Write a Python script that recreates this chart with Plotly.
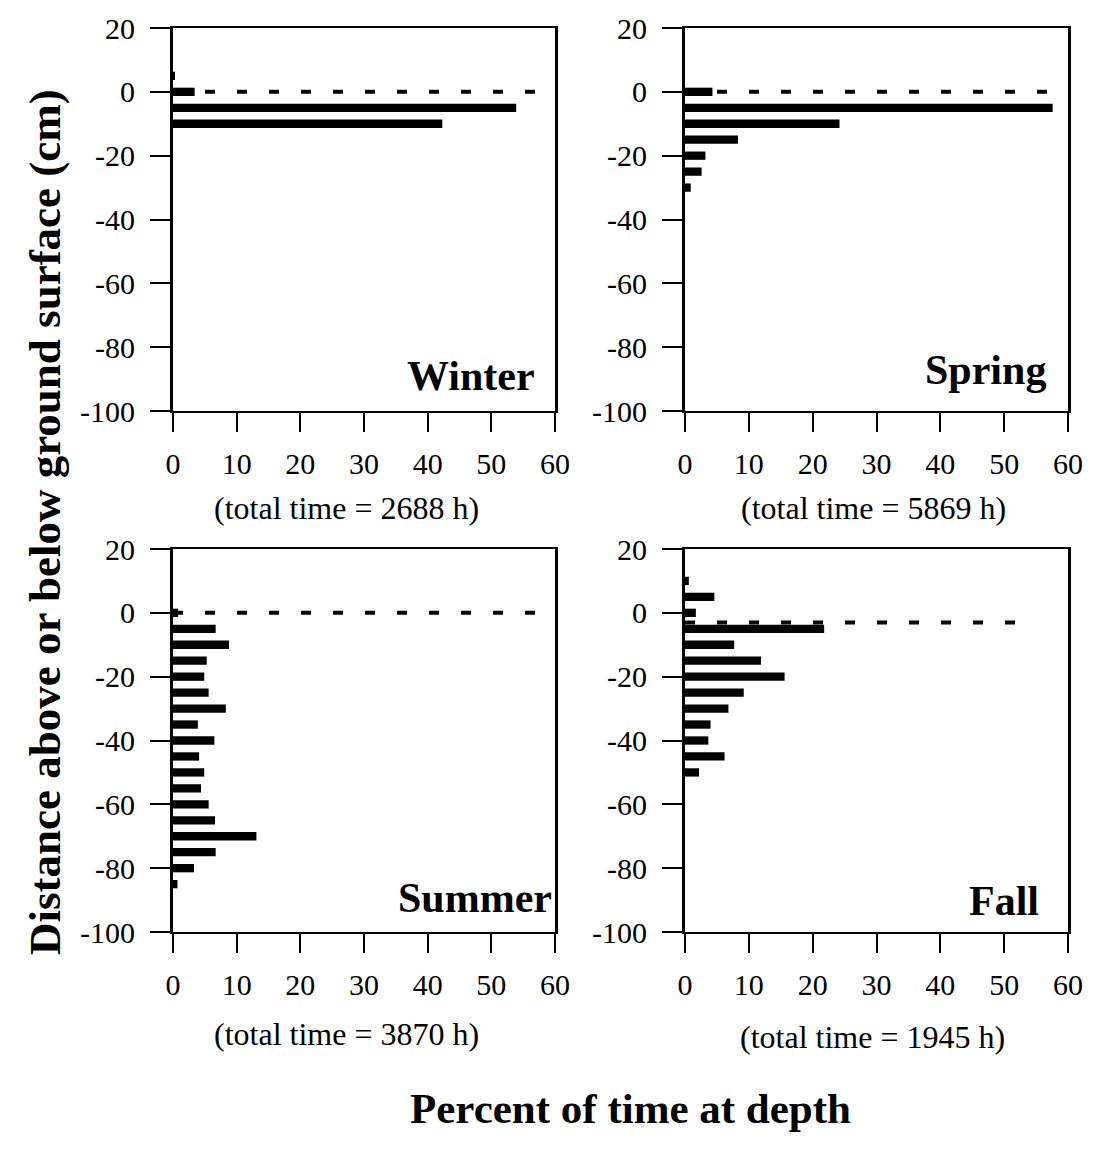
import plotly.graph_objects as go

# Depth classes (cm, + above ground / - below ground) and percent of time per season
winter_depth = [5, 0, -5, -10]
winter_pct = [0.3, 3.4, 53.9, 42.3]

spring_depth = [0, -5, -10, -15, -20, -25, -30]
spring_pct = [4.3, 57.6, 24.2, 8.3, 3.2, 2.6, 0.9]

summer_depth = [0, -5, -10, -15, -20, -25, -30, -35, -40, -45, -50, -55, -60,
                -65, -70, -75, -80, -85]
summer_pct = [0.8, 6.7, 8.8, 5.3, 4.9, 5.6, 8.3, 3.9, 6.5, 4.1, 4.9, 4.4, 5.6,
              6.6, 13.1, 6.7, 3.3, 0.7]

fall_depth = [10, 5, 0, -5, -10, -15, -20, -25, -30, -35, -40, -45, -50]
fall_pct = [0.6, 4.6, 1.7, 21.8, 7.7, 11.9, 15.6, 9.2, 6.8, 4.0, 3.65, 6.2, 2.2]

seasons = ["Winter", "Spring", "Summer", "Fall"]
total_hours = [2688, 5869, 3870, 1945]
# level of the ground surface reference line in each season (cm)
surface_level = [0, 0, 0, -3]
surface_extent = [57, 57, 57, 55]

x_ticks = [0, 10, 20, 30, 40, 50, 60]
y_ticks = [20, 0, -20, -40, -60, -80, -100]
y_tick_text = ["20", "0", "-20", "-40", "-60", "-80", "-100"]

depths = [winter_depth, spring_depth, summer_depth, fall_depth]
pcts = [winter_pct, spring_pct, summer_pct, fall_pct]

W, H = 1094, 1151
FONT = "Liberation Serif, Times New Roman, serif"

# panel boxes in page pixels: (left, right, top, bottom)
boxes = [(173, 555, 28, 411), (685, 1068, 28, 411),
         (173, 555, 549, 932), (685, 1068, 549, 932)]

fig = go.Figure()
layout = dict(
    template="none",
    width=W, height=H,
    margin=dict(l=0, r=0, t=0, b=0, pad=0),
    paper_bgcolor="white", plot_bgcolor="white",
    showlegend=False,
    font=dict(family=FONT, size=30, color="black"),
)

label_pos = [(57.1, -89), (56.9, -87), (59.8, -89.3), (55.8, -90.3)]
sub_pos = [(346, 508), (873, 508), (346, 1034), (872, 1037)]

annotations = []
for i in range(4):
    n = "" if i == 0 else str(i + 1)
    xa, ya = "x" + n, "y" + n
    l, r, t, b = boxes[i]
    layout["xaxis" + n] = dict(
        domain=[l / W, r / W], range=[0, 60], anchor=ya, automargin=False,
        tickvals=x_ticks, ticks="outside", ticklen=19, tickwidth=1.5,
        tickcolor="black", showline=True, linewidth=2, linecolor="black",
        mirror=True, showgrid=False, zeroline=False, ticklabelstandoff=6,
        tickfont=dict(size=30, family=FONT),
    )
    layout["yaxis" + n] = dict(
        domain=[1 - b / H, 1 - t / H], range=[-100, 20], anchor=xa,
        automargin=False,
        tickvals=y_ticks, ticktext=y_tick_text, ticks="outside", ticklen=20,
        tickwidth=1.5,
        tickcolor="black", showline=True, linewidth=3, linecolor="black",
        mirror=True, showgrid=False, zeroline=False, ticklabelstandoff=9,
        tickfont=dict(size=30, family=FONT),
    )
    fig.add_trace(go.Bar(
        x=pcts[i], y=depths[i], orientation="h", width=2.6,
        marker=dict(color="black", line=dict(width=0)),
        xaxis=xa, yaxis=ya,
    ))
    fig.add_trace(go.Scatter(
        x=[0, surface_extent[i]], y=[surface_level[i]] * 2, mode="lines",
        line=dict(color="black", width=4, dash="10px,22px"),
        xaxis=xa, yaxis=ya,
    ))
    lx, ly = label_pos[i]
    annotations.append(dict(
        x=lx, y=ly, xref=xa, yref=ya, text="<b>%s</b>" % seasons[i],
        showarrow=False, xanchor="right", yanchor="middle",
        font=dict(size=42, family=FONT, color="black"),
    ))
    sx, sy = sub_pos[i]
    annotations.append(dict(
        x=sx / W, y=1 - sy / H, xref="paper", yref="paper",
        text="(total time = %d h)" % total_hours[i],
        showarrow=False, xanchor="center", yanchor="middle",
        font=dict(size=32, family=FONT, color="black"),
    ))

annotations.append(dict(
    x=45 / W, y=1 - 522 / H, xref="paper", yref="paper",
    text="<b>Distance above or below ground surface (cm)</b>",
    textangle=-90, showarrow=False, xanchor="center", yanchor="middle",
    font=dict(size=45, family=FONT, color="black"),
))
annotations.append(dict(
    x=630 / W, y=1 - 1108 / H, xref="paper", yref="paper",
    text="<b>Percent of time at depth</b>",
    showarrow=False, xanchor="center", yanchor="middle",
    font=dict(size=43, family=FONT, color="black"),
))
layout["annotations"] = annotations
fig.update_layout(**layout)
fig.write_html("out.html")
